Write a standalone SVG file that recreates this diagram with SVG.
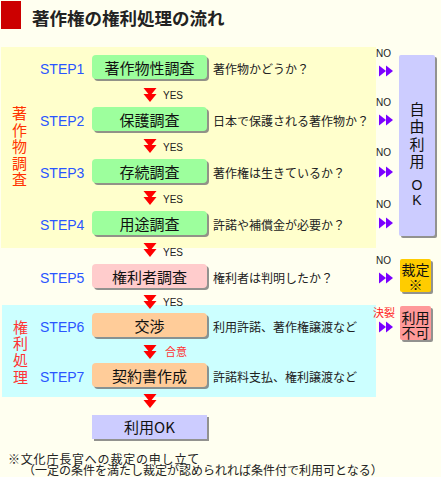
<svg xmlns="http://www.w3.org/2000/svg" width="441" height="477" viewBox="0 0 441 477">
<defs>
<style>
.jp{font-family:"Noto Sans CJK JP","Liberation Sans",sans-serif}
.boxt{font-family:"Noto Sans CJK JP",sans-serif;font-size:15px;fill:#111;text-anchor:middle}
.q{font-family:"Noto Sans CJK JP",sans-serif;font-size:12px;fill:#222}
.step{font-family:"Liberation Sans",Arial,sans-serif;font-size:14px;fill:#2a55ff}
.yes{font-family:"Liberation Sans",Arial,sans-serif;font-size:10px;fill:#222}
.no{font-family:"Liberation Sans",Arial,sans-serif;font-size:10px;fill:#222}
.shadow{fill:#777;opacity:0.8}
.green{fill:#9dff9d}
.pink{fill:#ffcccc}
.peach{fill:#ffcc99}
.lav{fill:#ccccff}
.red{fill:#ff0000}
.purple{fill:#7a00ff}
.vert{font-family:"Noto Sans CJK JP",sans-serif;font-size:15px;writing-mode:vertical-rl}
.bigside{font-family:"Noto Sans CJK JP",sans-serif;font-size:16px;fill:#111;text-anchor:middle}
.small{font-family:"Noto Sans CJK JP",sans-serif;font-size:14px;fill:#111;text-anchor:middle}
</style>
<g id="redArrow"><polygon class="red" points="-6.5,0 6.5,0 0,8"/><polygon class="red" points="-6.5,6 6.5,6 0,14"/></g>
<g id="purpleArrow"><polygon class="purple" points="0,-5.5 0,5.5 7,0"/><polygon class="purple" points="7,-5.5 7,5.5 14,0"/></g>
</defs>
<rect x="0" y="0" width="441" height="477" fill="#fffff0"/>
<rect x="1" y="47" width="375" height="201" fill="#ffffcc"/>
<rect x="2" y="305" width="374" height="92" fill="#ccffff"/>
<g id="title">
<rect x="1" y="1" width="20" height="28" fill="#cc0000"/>
<text class="jp" x="32" y="25" font-size="17.5" font-weight="bold" fill="#222">著作権の権利処理の流れ</text>
</g>
<g id="label-chosakubutsu">
<text class="vert" x="19.5" y="106" fill="#ff3300" letter-spacing="1.5">著作物調査</text>
</g>
<g id="label-kenri">
<text class="vert" x="20.5" y="319.5" fill="#ff3333" letter-spacing="1.7">権利処理</text>
</g>
<g id="step1">
<text class="step" x="40" y="74">STEP1</text>
<rect class="shadow" x="94" y="57" width="115" height="24" rx="4"/>
<rect class="green" x="92" y="55" width="115" height="24" rx="4"/>
<text class="boxt" x="149.5" y="74">著作物性調査</text>
<text class="q" x="213" y="73.5">著作物かどうか？</text>
</g>
<g id="step2">
<text class="step" x="40" y="126">STEP2</text>
<rect class="shadow" x="94" y="109" width="115" height="24" rx="4"/>
<rect class="green" x="92" y="107" width="115" height="24" rx="4"/>
<text class="boxt" x="149.5" y="126">保護調査</text>
<text class="q" x="213" y="125.5">日本で保護される著作物か？</text>
</g>
<g id="step3">
<text class="step" x="40" y="178">STEP3</text>
<rect class="shadow" x="94" y="161" width="115" height="24" rx="4"/>
<rect class="green" x="92" y="159" width="115" height="24" rx="4"/>
<text class="boxt" x="149.5" y="178">存続調査</text>
<text class="q" x="213" y="177.5">著作権は生きているか？</text>
</g>
<g id="step4">
<text class="step" x="40" y="230">STEP4</text>
<rect class="shadow" x="94" y="213" width="115" height="24" rx="4"/>
<rect class="green" x="92" y="211" width="115" height="24" rx="4"/>
<text class="boxt" x="149.5" y="230">用途調査</text>
<text class="q" x="213" y="229.5">許諾や補償金が必要か？</text>
</g>
<g id="step5">
<text class="step" x="40" y="283">STEP5</text>
<rect class="shadow" x="94" y="266" width="115" height="24" rx="4"/>
<rect class="pink" x="92" y="264" width="115" height="24" rx="4"/>
<text class="boxt" x="149.5" y="283">権利者調査</text>
<text class="q" x="213" y="282.5">権利者は判明したか？</text>
</g>
<g id="step6">
<text class="step" x="40" y="332">STEP6</text>
<rect class="shadow" x="94" y="315" width="115" height="24" rx="4"/>
<rect class="peach" x="92" y="313" width="115" height="24" rx="4"/>
<text class="boxt" x="149.5" y="332">交渉</text>
<text class="q" x="213" y="331.5">利用許諾、著作権譲渡など</text>
</g>
<g id="step7">
<text class="step" x="40" y="382">STEP7</text>
<rect class="shadow" x="94" y="365" width="115" height="24" rx="4"/>
<rect class="peach" x="92" y="363" width="115" height="24" rx="4"/>
<text class="boxt" x="149.5" y="382">契約書作成</text>
<text class="q" x="213" y="381.5">許諾料支払、権利譲渡など</text>
</g>
<g id="riyouOK">
<rect class="shadow" x="94" y="417" width="115" height="24"/>
<rect class="lav" x="92" y="415" width="115" height="24"/>
<text class="boxt" x="149.5" y="433">利用OK</text>
</g>
<g id="jiyuRiyouOK">
<rect class="shadow" x="401" y="57" width="36" height="181" rx="2"/>
<rect class="lav" x="399" y="55" width="36" height="181" rx="2"/>
<text class="vert" x="417" y="101.5" fill="#111" font-size="16" letter-spacing="2.5">自由利用</text>
<text class="bigside"><tspan x="417" y="189.5" font-family="Liberation Sans,sans-serif" font-size="14">O</tspan><tspan x="417" y="204.5" font-family="Liberation Sans,sans-serif" font-size="14">K</tspan></text>
</g>
<g id="saitei">
<rect class="shadow" x="402" y="261" width="31" height="33" rx="2"/>
<rect x="400" y="259" width="31" height="33" rx="2" fill="#ffcc00"/>
<text class="small"><tspan x="415.5" y="275">裁定</tspan><tspan x="415.5" y="290">※</tspan></text>
</g>
<g id="riyouFuka">
<rect class="shadow" x="402" y="308" width="31" height="34" rx="2"/>
<rect x="400" y="306" width="31" height="34" rx="2" fill="#ff9999"/>
<text class="small"><tspan x="415.5" y="322.5">利用</tspan><tspan x="415.5" y="338">不可</tspan></text>
</g>
<g id="connectors">
<use href="#redArrow" x="150" y="88"/>
<use href="#redArrow" x="150" y="139"/>
<use href="#redArrow" x="150" y="191"/>
<use href="#redArrow" x="150" y="243"/>
<use href="#redArrow" x="150" y="295"/>
<use href="#redArrow" x="150" y="345"/>
<use href="#redArrow" x="150" y="394"/>
<text class="yes" x="163" y="99">YES</text>
<text class="yes" x="163" y="151">YES</text>
<text class="yes" x="163" y="203">YES</text>
<text class="yes" x="163" y="256">YES</text>
<text class="yes" x="163" y="306">YES</text>
<text class="jp" x="165" y="356" font-size="11" fill="#ff3333">合意</text>
<use href="#purpleArrow" x="379" y="71"/>
<use href="#purpleArrow" x="379" y="120"/>
<use href="#purpleArrow" x="379" y="172"/>
<use href="#purpleArrow" x="379" y="223"/>
<use href="#purpleArrow" x="379" y="278"/>
<use href="#purpleArrow" x="379" y="327"/>
<text class="no" x="376" y="57">NO</text>
<text class="no" x="376" y="106">NO</text>
<text class="no" x="376" y="156">NO</text>
<text class="no" x="376" y="208">NO</text>
<text class="no" x="376" y="264">NO</text>
<text class="jp" x="373" y="317" font-size="11" fill="#ff2222">決裂</text>
</g>
<g id="footnote">
<text class="jp" font-size="12" fill="#222"><tspan x="8" y="464" letter-spacing="0.8">※文化庁長官への裁定の申し立て</tspan><tspan x="23" y="475" letter-spacing="0">（一定の条件を満たし裁定が認められれば条件付で利用可となる）</tspan></text>
</g>
</svg>
